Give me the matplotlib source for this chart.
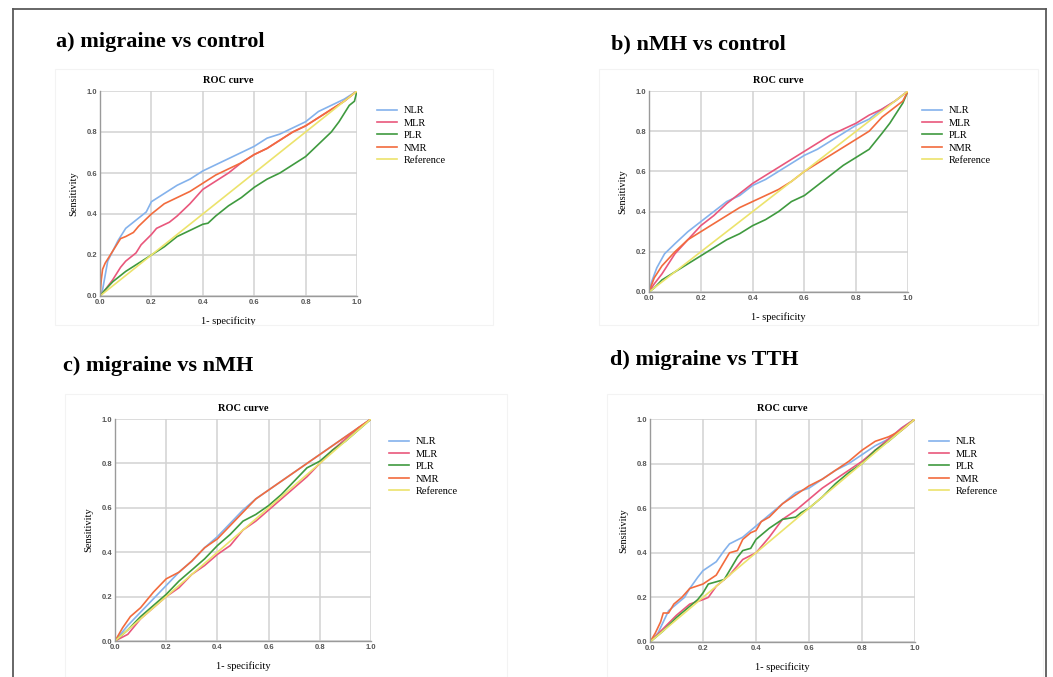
import matplotlib
matplotlib.use("Agg")
import matplotlib.pyplot as plt
from matplotlib.lines import Line2D
from matplotlib.patches import Rectangle

# ---- data ----
labels = ["NLR", "MLR", "PLR", "NMR", "Reference"]
colors = ["#84b2ec", "#e9577c", "#3f9a3f", "#f26b3d", "#ece36c"]

# a) migraine vs control
a_nlr_x = [0, 0.01, 0.02, 0.03, 0.05, 0.07, 0.1, 0.15, 0.18, 0.2, 0.25, 0.3, 0.35, 0.4, 0.45, 0.5, 0.55, 0.6, 0.65, 0.7, 0.75, 0.8, 0.85, 0.9, 0.95, 1]
a_nlr_y = [0, 0.03, 0.1, 0.17, 0.22, 0.27, 0.33, 0.38, 0.41, 0.46, 0.5, 0.54, 0.57, 0.61, 0.64, 0.67, 0.7, 0.73, 0.77, 0.79, 0.82, 0.85, 0.9, 0.93, 0.96, 1]
a_mlr_x = [0, 0.02, 0.05, 0.08, 0.1, 0.14, 0.16, 0.2, 0.22, 0.27, 0.3, 0.35, 0.4, 0.45, 0.5, 0.55, 0.6, 0.65, 0.7, 0.75, 0.8, 0.85, 0.9, 0.95, 1]
a_mlr_y = [0, 0.03, 0.08, 0.14, 0.17, 0.21, 0.25, 0.3, 0.33, 0.36, 0.39, 0.45, 0.52, 0.56, 0.6, 0.65, 0.69, 0.72, 0.76, 0.8, 0.83, 0.87, 0.91, 0.95, 1]
a_plr_x = [0, 0.02, 0.05, 0.1, 0.15, 0.2, 0.25, 0.3, 0.35, 0.4, 0.42, 0.45, 0.5, 0.55, 0.6, 0.65, 0.7, 0.75, 0.8, 0.85, 0.9, 0.93, 0.97, 0.99, 1]
a_plr_y = [0, 0.03, 0.07, 0.12, 0.16, 0.2, 0.24, 0.29, 0.32, 0.35, 0.355, 0.39, 0.44, 0.48, 0.53, 0.57, 0.6, 0.64, 0.68, 0.74, 0.8, 0.85, 0.93, 0.95, 1]
a_nmr_x = [0, 0.005, 0.01, 0.02, 0.04, 0.06, 0.08, 0.1, 0.13, 0.15, 0.2, 0.25, 0.3, 0.35, 0.4, 0.45, 0.5, 0.55, 0.6, 0.65, 0.7, 0.75, 0.8, 0.85, 0.9, 0.95, 1]
a_nmr_y = [0, 0.08, 0.13, 0.16, 0.2, 0.24, 0.28, 0.29, 0.31, 0.34, 0.4, 0.45, 0.48, 0.51, 0.55, 0.59, 0.62, 0.65, 0.69, 0.72, 0.76, 0.8, 0.83, 0.87, 0.91, 0.95, 1]

# b) nMH vs control
b_nlr_x = [0, 0.01, 0.03, 0.06, 0.1, 0.15, 0.2, 0.25, 0.3, 0.35, 0.4, 0.45, 0.5, 0.55, 0.6, 0.65, 0.7, 0.75, 0.8, 0.85, 0.9, 0.95, 1]
b_nlr_y = [0, 0.05, 0.12, 0.19, 0.24, 0.3, 0.35, 0.4, 0.45, 0.48, 0.53, 0.56, 0.6, 0.64, 0.68, 0.71, 0.75, 0.79, 0.83, 0.86, 0.91, 0.95, 1]
b_mlr_x = [0, 0.02, 0.05, 0.1, 0.15, 0.2, 0.25, 0.3, 0.35, 0.4, 0.45, 0.5, 0.55, 0.6, 0.65, 0.7, 0.75, 0.8, 0.85, 0.9, 0.95, 1]
b_mlr_y = [0, 0.04, 0.09, 0.19, 0.26, 0.33, 0.38, 0.44, 0.49, 0.54, 0.58, 0.62, 0.66, 0.7, 0.74, 0.78, 0.81, 0.84, 0.88, 0.91, 0.95, 1]
b_plr_x = [0, 0.02, 0.05, 0.1, 0.15, 0.2, 0.25, 0.3, 0.35, 0.4, 0.45, 0.5, 0.55, 0.6, 0.65, 0.7, 0.75, 0.8, 0.85, 0.9, 0.93, 0.96, 0.98, 1]
b_plr_y = [0, 0.02, 0.06, 0.1, 0.14, 0.18, 0.22, 0.26, 0.29, 0.33, 0.36, 0.4, 0.45, 0.48, 0.53, 0.58, 0.63, 0.67, 0.71, 0.79, 0.84, 0.9, 0.94, 1]
b_nmr_x = [0, 0.02, 0.05, 0.1, 0.15, 0.2, 0.25, 0.3, 0.35, 0.4, 0.45, 0.5, 0.55, 0.6, 0.65, 0.7, 0.75, 0.8, 0.85, 0.9, 0.95, 0.98, 1]
b_nmr_y = [0, 0.07, 0.13, 0.2, 0.26, 0.3, 0.34, 0.38, 0.42, 0.45, 0.48, 0.51, 0.55, 0.6, 0.64, 0.68, 0.72, 0.76, 0.8, 0.87, 0.92, 0.95, 1]

# c) migraine vs nMH
c_nlr_x = [0, 0.05, 0.1, 0.15, 0.2, 0.25, 0.3, 0.35, 0.4, 0.45, 0.5, 0.55, 0.6, 0.65, 0.7, 0.75, 0.8, 0.85, 0.9, 0.95, 1]
c_nlr_y = [0, 0.07, 0.13, 0.19, 0.25, 0.31, 0.36, 0.42, 0.47, 0.53, 0.59, 0.64, 0.68, 0.72, 0.76, 0.8, 0.84, 0.88, 0.92, 0.96, 1]
c_mlr_x = [0, 0.05, 0.1, 0.15, 0.2, 0.25, 0.3, 0.35, 0.4, 0.45, 0.5, 0.55, 0.6, 0.65, 0.7, 0.75, 0.8, 0.85, 0.9, 0.95, 1]
c_mlr_y = [0, 0.03, 0.1, 0.15, 0.2, 0.24, 0.3, 0.34, 0.39, 0.43, 0.5, 0.54, 0.59, 0.64, 0.69, 0.74, 0.8, 0.86, 0.91, 0.96, 1]
c_plr_x = [0, 0.05, 0.1, 0.15, 0.2, 0.25, 0.3, 0.35, 0.4, 0.45, 0.5, 0.55, 0.6, 0.65, 0.7, 0.75, 0.8, 0.85, 0.9, 0.95, 1]
c_plr_y = [0, 0.05, 0.11, 0.16, 0.21, 0.27, 0.32, 0.37, 0.43, 0.48, 0.54, 0.57, 0.61, 0.66, 0.72, 0.78, 0.81, 0.86, 0.9, 0.95, 1]
c_nmr_x = [0, 0.03, 0.06, 0.1, 0.15, 0.2, 0.25, 0.3, 0.35, 0.4, 0.45, 0.5, 0.55, 0.6, 0.65, 0.7, 0.75, 0.8, 0.85, 0.9, 0.95, 1]
c_nmr_y = [0, 0.06, 0.11, 0.15, 0.22, 0.28, 0.31, 0.36, 0.42, 0.46, 0.52, 0.58, 0.64, 0.68, 0.72, 0.76, 0.8, 0.84, 0.88, 0.92, 0.96, 1]

# d) migraine vs TTH
d_nlr_x = [0, 0.03, 0.05, 0.07, 0.1, 0.13, 0.15, 0.18, 0.2, 0.25, 0.28, 0.3, 0.35, 0.4, 0.45, 0.5, 0.55, 0.6, 0.65, 0.7, 0.75, 0.8, 0.85, 0.9, 0.95, 1]
d_nlr_y = [0, 0.04, 0.09, 0.14, 0.17, 0.2, 0.24, 0.29, 0.32, 0.36, 0.41, 0.44, 0.47, 0.52, 0.57, 0.62, 0.67, 0.69, 0.73, 0.77, 0.8, 0.84, 0.88, 0.91, 0.96, 1]
d_mlr_x = [0, 0.05, 0.1, 0.15, 0.2, 0.22, 0.25, 0.3, 0.35, 0.4, 0.45, 0.5, 0.55, 0.6, 0.65, 0.7, 0.75, 0.8, 0.85, 0.9, 0.95, 1]
d_mlr_y = [0, 0.06, 0.12, 0.17, 0.19, 0.2, 0.25, 0.3, 0.37, 0.4, 0.47, 0.55, 0.59, 0.64, 0.69, 0.73, 0.77, 0.81, 0.86, 0.91, 0.96, 1]
d_plr_x = [0, 0.05, 0.1, 0.15, 0.18, 0.2, 0.22, 0.25, 0.28, 0.3, 0.33, 0.35, 0.38, 0.4, 0.45, 0.5, 0.55, 0.57, 0.6, 0.65, 0.7, 0.75, 0.8, 0.85, 0.9, 0.95, 1]
d_plr_y = [0, 0.05, 0.11, 0.16, 0.19, 0.22, 0.26, 0.27, 0.28, 0.32, 0.38, 0.41, 0.42, 0.46, 0.51, 0.55, 0.56, 0.58, 0.6, 0.65, 0.71, 0.76, 0.8, 0.86, 0.9, 0.95, 1]
d_nmr_x = [0, 0.02, 0.04, 0.05, 0.07, 0.09, 0.12, 0.15, 0.2, 0.25, 0.27, 0.3, 0.33, 0.35, 0.38, 0.4, 0.42, 0.45, 0.5, 0.55, 0.6, 0.65, 0.7, 0.75, 0.8, 0.85, 0.9, 0.95, 1]
d_nmr_y = [0, 0.04, 0.09, 0.13, 0.13, 0.17, 0.2, 0.24, 0.26, 0.3, 0.34, 0.4, 0.41, 0.46, 0.49, 0.5, 0.54, 0.56, 0.62, 0.66, 0.7, 0.73, 0.77, 0.81, 0.86, 0.9, 0.92, 0.95, 1]

ref_x = [0, 1]
ref_y = [0, 1]
ticks = [0.0, 0.2, 0.4, 0.6, 0.8, 1.0]
tick_labels = ["0.0", "0.2", "0.4", "0.6", "0.8", "1.0"]

panels = [
    ("a) migraine vs control", [(a_nlr_x, a_nlr_y), (a_mlr_x, a_mlr_y), (a_plr_x, a_plr_y), (a_nmr_x, a_nmr_y)]),
    ("b) nMH vs control", [(b_nlr_x, b_nlr_y), (b_mlr_x, b_mlr_y), (b_plr_x, b_plr_y), (b_nmr_x, b_nmr_y)]),
    ("c) migraine vs nMH", [(c_nlr_x, c_nlr_y), (c_mlr_x, c_mlr_y), (c_plr_x, c_plr_y), (c_nmr_x, c_nmr_y)]),
    ("d) migraine vs TTH", [(d_nlr_x, d_nlr_y), (d_mlr_x, d_mlr_y), (d_plr_x, d_plr_y), (d_nmr_x, d_nmr_y)]),
]

# pixel layout: axes box (x0, x1, y_top, y_bottom), title pos, legend pos
W, H = 1053, 677
layout = [
    dict(ax=(100, 357, 91, 296), title=(56, 42), leg=(377, 106), box=(55, 69, 493, 325)),
    dict(ax=(649, 908, 91, 292), title=(611, 44), leg=(922, 106), box=(599, 69, 1038, 325)),
    dict(ax=(115, 371, 419, 641), title=(63, 366), leg=(389, 437), box=(65, 394, 507, 677)),
    dict(ax=(650, 915, 419, 642), title=(610, 360), leg=(929, 437), box=(607, 394, 1043, 677)),
]

serif = "Liberation Serif"

fig = plt.figure(figsize=(W / 100, H / 100), dpi=100)
fig.patch.set_facecolor("white")

for (title, curves), lay in zip(panels, layout):
    x0, x1, yt, yb = lay["ax"]
    bx0, by0, bx1, by1 = lay["box"]
    # faint frame of the exported chart image
    fig.add_artist(Rectangle((bx0 / W, 1 - by1 / H), (bx1 - bx0) / W, (by1 - by0) / H,
                             transform=fig.transFigure, fill=False, edgecolor="#f3f3f3", lw=0.8))
    ax = fig.add_axes([x0 / W, 1 - yb / H, (x1 - x0) / W, (yb - yt) / H])
    for (xs, ys), c, lab in zip(curves, colors[:4], labels[:4]):
        ax.plot(xs, ys, color=c, lw=1.2, label=lab)
    ax.plot(ref_x, ref_y, color=colors[4], lw=1.2, label=labels[4])
    ax.set_xlim(0, 1)
    ax.set_ylim(0, 1)
    ax.set_xticks(ticks)
    ax.set_yticks(ticks)
    ax.set_xticklabels(tick_labels)
    ax.set_yticklabels(tick_labels)
    ax.tick_params(length=0, labelsize=5.5, labelcolor="#555555")
    ax.tick_params(axis="x", pad=2.5)
    ax.tick_params(axis="y", pad=2)
    for t in ax.get_xticklabels() + ax.get_yticklabels():
        t.set_fontfamily("Liberation Sans")
        t.set_fontweight("bold")
    ax.grid(True, color="#d2d2d2", lw=1.1)
    ax.set_axisbelow(True)
    for s in ["top", "right"]:
        ax.spines[s].set_visible(False)
    for s in ["left", "bottom"]:
        ax.spines[s].set_color("#9a9a9a")
        ax.spines[s].set_linewidth(1.0)
    ax.set_title("ROC curve", fontfamily=serif, fontweight="bold", fontsize=7.5, pad=6)
    ax.set_xlabel("1- specificity", fontfamily=serif, fontsize=7.5, labelpad=7)
    ax.set_ylabel("Sensitivity", fontfamily=serif, fontsize=7.5, labelpad=6)
    lx, ly = lay["leg"]
    ax.legend(loc="upper left", bbox_to_anchor=(lx / W, 1 - ly / H), bbox_transform=fig.transFigure,
              frameon=False, prop={"family": serif, "size": 7.5}, handlelength=1.9,
              handletextpad=0.7, labelspacing=0.3, borderpad=0, borderaxespad=0)
    tx, ty = lay["title"]
    fig.text(tx / W, 1 - ty / H, title, fontfamily=serif, fontweight="bold", fontsize=16,
             ha="left", va="center")

# page frame
frame_c = "#5a5a5a"
fig.add_artist(Line2D([13 / W, 13 / W], [0, 1 - 9 / H], transform=fig.transFigure, color=frame_c, lw=1.3))
fig.add_artist(Line2D([13 / W, 1046 / W], [1 - 9 / H, 1 - 9 / H], transform=fig.transFigure, color=frame_c, lw=1.3))
fig.add_artist(Line2D([1046 / W, 1046 / W], [0, 1 - 9 / H], transform=fig.transFigure, color=frame_c, lw=1.3))

fig.savefig("out.png", dpi=100)
